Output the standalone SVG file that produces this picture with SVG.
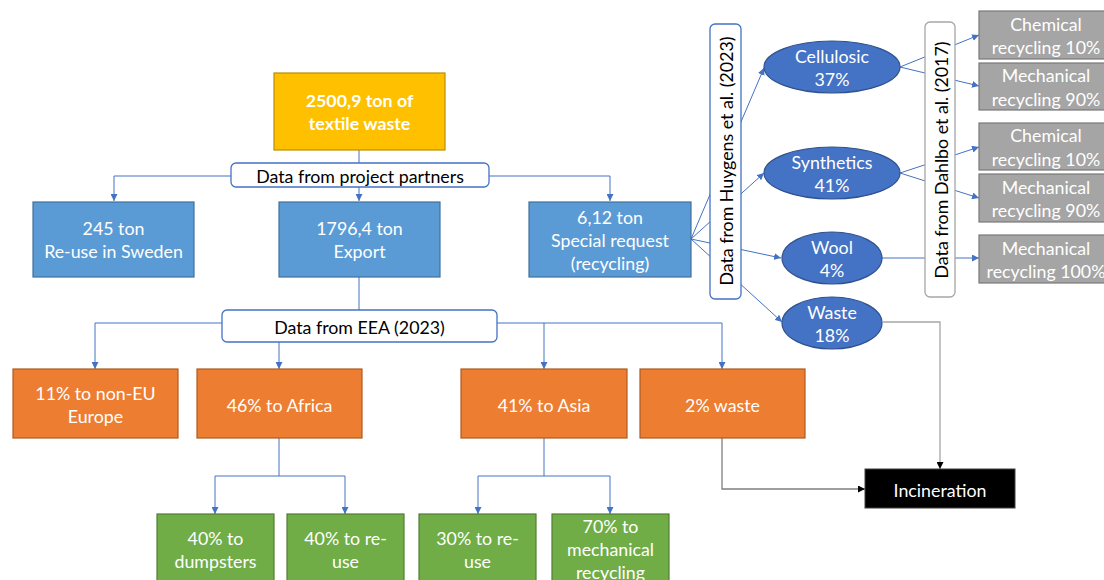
<svg xmlns="http://www.w3.org/2000/svg" width="1104" height="580" viewBox="0 0 1104 580">
<defs>
<marker id="ab" viewBox="0 0 10 10" refX="10" refY="5" markerWidth="7" markerHeight="7" markerUnits="userSpaceOnUse" orient="auto"><path d="M0,0 L10,5 L0,10 z" fill="#4472C4"/></marker>
<marker id="ak" viewBox="0 0 10 10" refX="10" refY="5" markerWidth="7" markerHeight="7" markerUnits="userSpaceOnUse" orient="auto"><path d="M0,0 L10,5 L0,10 z" fill="#000"/></marker>
<style>
text{font-family:Lato,"Liberation Sans",sans-serif;font-size:17.8px;text-anchor:middle;dominant-baseline:central}
.w{fill:#fff}
.k{fill:#000}
.b{stroke:#4472C4;stroke-width:1;fill:none}
.ba{stroke:#4472C4;stroke-width:1;fill:none;marker-end:url(#ab)}
.blue{fill:#5B9BD5;stroke:#41719C;stroke-width:1.2}
.org{fill:#ED7D31;stroke:#AE5A21;stroke-width:1.2}
.grn{fill:#70AD47;stroke:#507E32;stroke-width:1.2}
.gry{fill:#A5A5A5;stroke:#787878;stroke-width:1.2}
.ell{fill:#4472C4;stroke:#2F528F;stroke-width:1.2}
.lbl{fill:#fff;stroke:#4472C4;stroke-width:1.3}
</style>
</defs>
<g id="connectors">
<path class="b" d="M359,150 V163"/>
<path class="ba" d="M231,176 H114 V201"/>
<path class="ba" d="M359,187 V201"/>
<path class="ba" d="M489,176 H610 V201"/>
<path class="b" d="M359,277 V310"/>
<path class="ba" d="M222,323 H95 V369"/>
<path class="ba" d="M279,342 V369"/>
<path class="ba" d="M497,323 H722 V369"/>
<path class="ba" d="M544,323 V369"/>
<path class="b" d="M279,438 V476 M215,476 H345"/>
<path class="ba" d="M215,476 V514"/>
<path class="ba" d="M345,476 V514"/>
<path class="b" d="M544,438 V476 M478,476 H610"/>
<path class="ba" d="M478,476 V514"/>
<path class="ba" d="M610,476 V514"/>
<path class="ba" d="M691,239 L764,68"/>
<path class="ba" d="M691,239 L764,173"/>
<path class="ba" d="M691,239 L781,258"/>
<path class="ba" d="M691,239 L782,322"/>
<path class="ba" d="M900,67 L979,35"/>
<path class="ba" d="M900,67 L979,86"/>
<path class="ba" d="M900,173 L979,147"/>
<path class="ba" d="M900,173 L979,198"/>
<path class="ba" d="M882,258 H979"/>
<path d="M883,322 H940 V469" fill="none" stroke="#A6A6A6" stroke-width="1.3" marker-end="url(#ak)"/>
<path d="M722,438 V489 H865" fill="none" stroke="#7F7F7F" stroke-width="1.3" marker-end="url(#ak)"/>
</g>
<g id="n-total"><rect x="274" y="73" width="171" height="77" fill="#FFC000" stroke="#BC8C00" stroke-width="1.2"/><text class="w" x="359.5" y="100" font-weight="bold">2500,9 ton of</text><text class="w" x="359.5" y="123" font-weight="bold">textile waste</text></g>
<g id="n-partners"><rect class="lbl" x="231" y="163" width="258" height="24" rx="5"/><text class="k" x="360" y="175.5">Data from project partners</text></g>
<g id="n-sweden"><rect class="blue" x="33" y="202" width="161" height="75"/><text class="w" x="113.5" y="228">245 ton</text><text class="w" x="113.5" y="251">Re-use in Sweden</text></g>
<g id="n-export"><rect class="blue" x="279" y="202" width="161" height="75"/><text class="w" x="359.5" y="228">1796,4 ton</text><text class="w" x="359.5" y="251">Export</text></g>
<g id="n-special"><rect class="blue" x="529" y="202" width="162" height="75"/><text class="w" x="610" y="216.5">6,12 ton</text><text class="w" x="610" y="240">Special request</text><text class="w" x="610" y="263">(recycling)</text></g>
<g id="n-huygens"><rect class="lbl" x="710" y="24" width="31" height="275" rx="5"/><text class="k" transform="translate(726,161) rotate(-90)">Data from Huygens et al. (2023)</text></g>
<g id="n-cellulosic"><ellipse class="ell" cx="832" cy="67" rx="68" ry="26"/><text class="w" x="832" y="56">Cellulosic</text><text class="w" x="832" y="79">37%</text></g>
<g id="n-synthetics"><ellipse class="ell" cx="832" cy="173" rx="68" ry="26"/><text class="w" x="832" y="162">Synthetics</text><text class="w" x="832" y="185">41%</text></g>
<g id="n-wool"><ellipse class="ell" cx="832" cy="258" rx="50" ry="26"/><text class="w" x="832" y="247">Wool</text><text class="w" x="832" y="270">4%</text></g>
<g id="n-waste"><ellipse class="ell" cx="832" cy="323" rx="50" ry="26"/><text class="w" x="832" y="312">Waste</text><text class="w" x="832" y="335">18%</text></g>
<g id="n-dahlbo"><rect x="925" y="22" width="30" height="275" rx="5" fill="#fff" stroke="#A6A6A6" stroke-width="1.3"/><text class="k" transform="translate(941,160) rotate(-90)">Data from Dahlbo et al. (2017)</text></g>
<g id="n-chem1"><rect class="gry" x="979" y="11" width="136" height="48"/><text class="w" x="1046" y="24">Chemical</text><text class="w" x="1046" y="47">recycling 10%</text></g>
<g id="n-mech1"><rect class="gry" x="979" y="63" width="136" height="47"/><text class="w" x="1046" y="75">Mechanical</text><text class="w" x="1046" y="99">recycling 90%</text></g>
<g id="n-chem2"><rect class="gry" x="979" y="123" width="136" height="47"/><text class="w" x="1046" y="135">Chemical</text><text class="w" x="1046" y="159">recycling 10%</text></g>
<g id="n-mech2"><rect class="gry" x="979" y="174" width="136" height="48"/><text class="w" x="1046" y="187">Mechanical</text><text class="w" x="1046" y="210">recycling 90%</text></g>
<g id="n-mech3"><rect class="gry" x="979" y="235" width="136" height="48"/><text class="w" x="1046" y="248">Mechanical</text><text class="w" x="1046" y="271">recycling 100%</text></g>
<g id="n-eea"><rect class="lbl" x="222" y="310" width="275" height="32" rx="5"/><text class="k" x="359.5" y="326.5">Data from EEA (2023)</text></g>
<g id="n-europe"><rect class="org" x="13" y="369" width="165" height="69"/><text class="w" x="95.5" y="393">11% to non-EU</text><text class="w" x="95.5" y="416">Europe</text></g>
<g id="n-africa"><rect class="org" x="197" y="369" width="165" height="69"/><text class="w" x="279.5" y="405">46% to Africa</text></g>
<g id="n-asia"><rect class="org" x="461" y="369" width="166" height="69"/><text class="w" x="544" y="405">41% to Asia</text></g>
<g id="n-waste2"><rect class="org" x="640" y="369" width="165" height="69"/><text class="w" x="722.5" y="405">2% waste</text></g>
<g id="n-dump"><rect class="grn" x="157" y="514" width="117" height="80"/><text class="w" x="215.5" y="538">40% to</text><text class="w" x="215.5" y="561">dumpsters</text></g>
<g id="n-reuse1"><rect class="grn" x="287" y="514" width="117" height="80"/><text class="w" x="345.5" y="538">40% to re-</text><text class="w" x="345.5" y="561">use</text></g>
<g id="n-reuse2"><rect class="grn" x="419" y="514" width="117" height="80"/><text class="w" x="477.5" y="538">30% to re-</text><text class="w" x="477.5" y="561">use</text></g>
<g id="n-mechrec"><rect class="grn" x="552" y="514" width="117" height="80"/><text class="w" x="610.5" y="526">70% to</text><text class="w" x="610.5" y="549">mechanical</text><text class="w" x="610.5" y="572">recycling</text></g>
<g id="n-incin"><rect x="865" y="469" width="150" height="39" fill="#000" stroke="#404040" stroke-width="1"/><text class="w" x="940" y="489.5">Incineration</text></g>
</svg>
